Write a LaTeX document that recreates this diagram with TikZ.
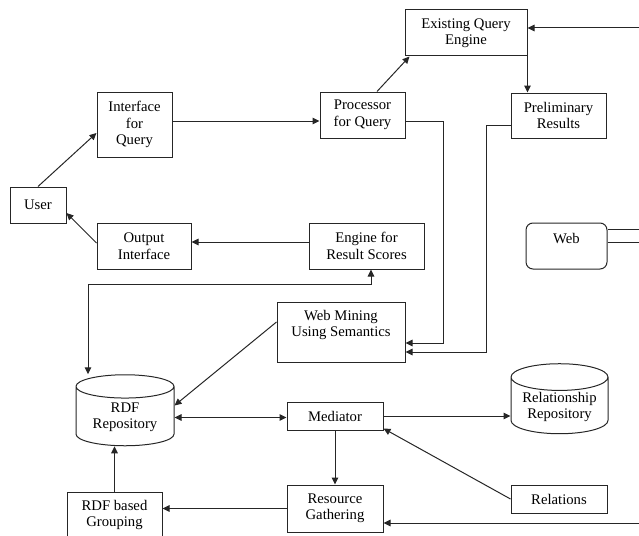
\documentclass[tikz,border=0pt]{standalone}
\usepackage{fontspec}
\setmainfont{Liberation Serif}
\usetikzlibrary{arrows.meta,positioning,shapes.geometric,calc}

\begin{document}
\begin{tikzpicture}[x=1pt,y=-1pt,line width=1pt,draw=black!85,
    >={Triangle[length=7pt,width=6.5pt]},
    box/.style={draw,align=center,inner sep=1pt,font=\fontsize{14.7}{16.5}\selectfont},
    db/.style={box,cylinder,shape border rotate=90,aspect=0.35}]
    \useasboundingbox (0,0) rectangle (639,535);
    \node[box,minimum width=56,minimum height=36] (usr) at (38,205) {User};
    \node[box,minimum width=75,minimum height=65] (iq) at (134.5,124.5) {Interface\\for\\Query};
    \node[box,minimum width=85,minimum height=46] (pq) at (362.5,115) {Processor\\for Query};
    \node[box,minimum width=122,minimum height=46] (eq) at (466,33) {Existing Query\\Engine};
    \node[box,minimum width=95,minimum height=45] (pr) at (558.5,115.5) {Preliminary\\Results};
    \node[box,minimum width=94,minimum height=46] (out) at (144,246) {Output\\Interface};
    \node[box,minimum width=115,minimum height=46] (es) at (366.5,246) {Engine for\\Result Scores};
    \node[box,minimum width=128,minimum height=60,
        label={[box,draw=none,anchor=north,yshift=-7pt]north:Web Mining\\Using Semantics}] (wm) at (341,332) {};
    \node[box,rounded corners=7pt,minimum width=81,minimum height=46,
        label={[box,draw=none,anchor=north,yshift=-9pt]north:Web}] (web) at (566.5,246) {};
    \node[db,minimum width=98,minimum height=71] (rdf) at (125,417.5) {RDF\\Repository};
    \node[box,minimum width=96,minimum height=28] (med) at (335,416) {Mediator};
    \node[db,minimum width=97,minimum height=70] (rr) at (559.5,407) {Relationship\\Repository};
    \node[box,minimum width=96,minimum height=47] (rg) at (335,508.5) {Resource\\Gathering};
    \node[box,minimum width=96,minimum height=28] (rel) at (559,499) {Relations};
    \node[box,minimum width=95,minimum height=46] (grp) at (114.5,515) {RDF based\\Grouping};
    \coordinate (rin1) at (639,28);
    \coordinate (rin2) at (639,523);
    \coordinate (wout1) at (639,229);
    \coordinate (wout2) at (639,242);
    \draw[->] (usr.north) -- ($(iq.west)+(0,8.5)$);
    \draw[->] ($(out.west)+(0,-3)$) -- ($(usr.east)+(0,8)$);
    \draw[->] ($(iq.east)+(0,-3.5)$) -- ($(pq.west)+(0,6)$);
    \draw[->] ($(pq.north)+(14.5,0)$) -- ($(eq.south west)+(5,0)$);
    \draw[->] ($(pq.east)+(0,6)$) -- ++(38,0) |- ($(wm.east)+(0,11)$);
    \draw[->] (eq.south east) -- (eq.south east |- pr.north);
    \draw[->] (rin1) -- (rin1 -| eq.east);
    \draw[->] ($(pr.west)+(0,9.5)$) -- ++(-24,0) |- ($(wm.east)+(0,20)$);
    \draw[->] ($(es.west)+(0,-4)$) -- ($(out.east)+(0,-4)$);
    \draw[<->] ($(es.south)+(4.5,0)$) |- ($(rdf.north)+(-37,-90)$) -- ($(rdf.north)+(-37,0)$);
    \draw[->] ($(wm.west)+(0,-10)$) -- ($(rdf.east)+(0,-12)$);
    \draw[<->] (rdf.east) -- (rdf.east -| med.west);
    \draw[->] (med.east) -- (med.east -| rr.west);
    \draw[->] (med) -- (rg);
    \draw[->] (rel.west) -- ($(med.south east)+(0,-2)$);
    \draw[->] (rin2) -- (rin2 -| rg.east);
    \draw[->] (rg.west) -- (rg.west -| grp.east);
    \draw[->] (grp.north) -- (grp.north |- rdf.south);
    \draw (wout1 -| web.east) -- (wout1);
    \draw (wout2 -| web.east) -- (wout2);
\end{tikzpicture}
\end{document}
